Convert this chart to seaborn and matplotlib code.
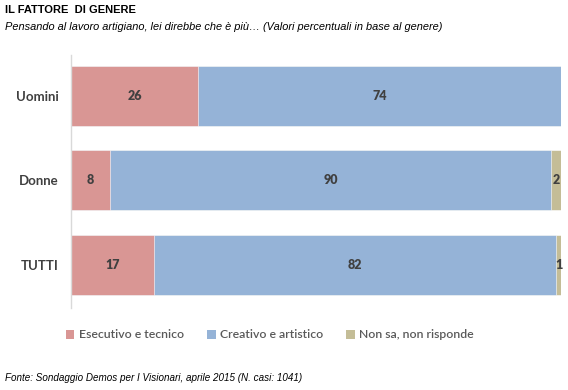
import matplotlib
matplotlib.use("Agg")
import matplotlib.pyplot as plt
from matplotlib.patches import Patch
import seaborn as sns
import pandas as pd
import numpy as np

# data
gruppi = ["Uomini", "Donne", "TUTTI"]
esecutivo = [26, 8, 17]
creativo = [74, 90, 82]
non_sa = [0, 2, 1]
serie = ["Esecutivo e tecnico", "Creativo e artistico", "Non sa, non risponde"]
colori = ["#D99694", "#95B3D7", "#C4BD97"]

sns.set_theme(style="white")
plt.rcParams["font.family"] = ["Lato", "DejaVu Sans"]

df = pd.DataFrame({"gruppo": gruppi, "esec": esecutivo, "creat": creativo, "ns": non_sa})
df["c1"] = df["esec"]
df["c2"] = df["esec"] + df["creat"]
df["c3"] = df["c2"] + df["ns"]

fig = plt.figure(figsize=(5.68, 3.90), dpi=100)
ax = fig.add_axes([71/568, 1-308/390, 490/568, 253/390])

# stacked bars drawn as overlapping cumulative bars
for col, c in [("c3", colori[2]), ("c2", colori[1]), ("c1", colori[0])]:
    sns.barplot(data=df, x=col, y="gruppo", orient="h", color=c, width=0.71,
                saturation=1, edgecolor="white", linewidth=0.4, ax=ax)

# labels in the middle of each segment
for i in range(len(gruppi)):
    start = 0
    for val in [esecutivo[i], creativo[i], non_sa[i]]:
        if val > 0:
            ax.text(start + val/2, i, str(val), ha="center", va="center",
                    fontsize=9, fontweight="heavy", color="#404040")
        start += val

ax.set_xlim(0, 100)
ax.set_ylim(2.51, -0.485)
ax.set_xlabel("")
ax.set_ylabel("")
ax.set_xticks([])
ax.tick_params(axis="y", length=0, pad=9)
for lab in ax.get_yticklabels():
    lab.set_fontsize(9.5)
    lab.set_fontweight("bold")
    lab.set_color("#404040")
for s in ["top", "right", "bottom"]:
    ax.spines[s].set_visible(False)
ax.spines["left"].set_color("#D9D9D9")
ax.spines["left"].set_linewidth(1)

handles = [Patch(facecolor=c, edgecolor="none") for c in colori]
fig.legend(handles, serie, loc="center", bbox_to_anchor=(0.475, 1-335/390), ncol=3,
           frameon=False, handlelength=0.7, handleheight=0.7,
           handletextpad=0.35, columnspacing=1.9, labelcolor="#595959",
           prop={"family": "Lato", "size": 8.8, "weight": "semibold"})

fig.text(5/568, 1-10/390, "IL FATTORE  DI GENERE", ha="left", va="center",
         family="Liberation Sans", fontweight="bold", fontsize=8, color="black")
fig.text(5/568, 1-27/390,
         "Pensando al lavoro artigiano, lei direbbe che è più… (Valori percentuali in base al genere)",
         ha="left", va="center", family="Liberation Sans", style="italic", fontsize=7.95, color="black")
fig.text(5/568, 1-378/390, "Fonte: Sondaggio Demos per I Visionari, aprile 2015 (N. casi: 1041)",
         ha="left", va="center", family="Liberation Sans", style="italic", fontsize=7.1, color="black")

fig.savefig("out.png", dpi=100)
